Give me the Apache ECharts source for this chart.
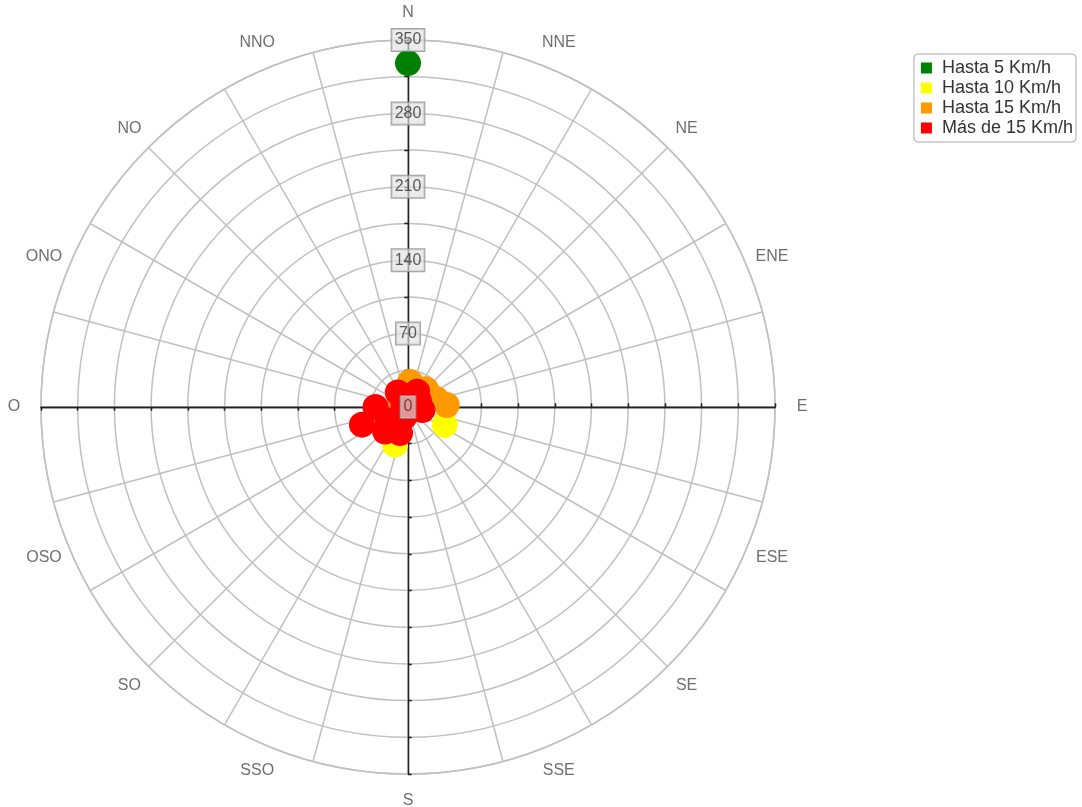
<!DOCTYPE html>
<html>
<head>
<meta charset="utf-8">
<script src="https://cdn.jsdelivr.net/npm/echarts@6/dist/echarts.min.js"></script>
<style>
html,body{margin:0;padding:0;background:#fff;}
#chart{width:1082px;height:807px;}
</style>
</head>
<body>
<div id="chart"></div>
<script>
// Compass labels (angle axis ticks), one every 22.5 degrees clockwise from N
const COMPASS = ['N','NNE','NE','ENE','E','ESE','SE','SSE','S','SSO','SO','OSO','O','ONO','NO','NNO'];
// Radius axis tick labels
const RADIUS_TICKS = [0, 70, 140, 210, 280, 350];
const RADIUS_MAX = 350;
const RADIUS_STEP = 35;
const ANGLE_STEP = 15;

// Series: [radius value, angle in degrees clockwise from N]
const SERIES_NAMES = ['Hasta 5 Km/h', 'Hasta 10 Km/h', 'Hasta 15 Km/h', 'Más de 15 Km/h'];
const hasta5 = [[328, 0]];
const hasta10 = [[39, 116], [38, 199]];
const hasta15 = [[24, 5], [37, 87], [28, 74], [24, 45], [16, 249], [18, 20]];
const mas15 = [[31, 270], [47, 249], [32, 223], [26, 197], [17, 325], [17, 31], [14, 102], [23, 237], [5, 300], [10, 350], [12, 60], [10, 200]];
const COLORS = ['#008000', '#ffff00', '#ff9900', '#ff0000'];

const FONT = 'Liberation Sans, Arial, sans-serif';
const CENTER = [408, 407];
const RADIUS = 367;
const LABEL_GAP_PX = 27; // compass label centre distance outside the outer ring

const polars = [];
const angleAxes = [];
const radiusAxes = [];

// polar 0: spokes + rings, radius axis up (ticks outside)
// polars 1..7: black radius axes up/right/left/down (ticks on both sides)
const dirs = [[90,false],[90,true],[0,false],[0,true],[180,false],[180,true],[270,false],[270,true]];
dirs.forEach(function(d, i){
  polars.push({center: CENTER, radius: RADIUS});
  let aa;
  if (i === 0) {
    aa = {type:'value', min:0, max:360, interval:ANGLE_STEP, startAngle:90, clockwise:true,
      axisLine:{show:true, lineStyle:{color:'#c0c0c0', width:1.5}},
      axisTick:{show:false}, axisLabel:{show:false},
      splitLine:{show:true, lineStyle:{color:'#c0c0c0', width:1.5}}};
  } else {
    aa = {type:'value', min:0, max:360, startAngle:d[0], clockwise:true,
      axisLine:{show:false}, axisTick:{show:false}, axisLabel:{show:false}, splitLine:{show:false}};
  }
  aa.polarIndex = i;
  angleAxes.push(aa);
  radiusAxes.push({
    polarIndex:i, type:'value', min:0, max:RADIUS_MAX, interval:RADIUS_STEP,
    axisLine:{show:true, lineStyle:{color:'#222', width:1.3}},
    axisTick:{show:true, inside:d[1], length:3.5, lineStyle:{color:'#222', width:1.3}},
    axisLabel:{show:false},
    splitLine:{show:i===0, lineStyle:{color:'#c0c0c0', width:1.5}},
    z: 3
  });
});

const dataSets = [hasta5, hasta10, hasta15, mas15];
const series = dataSets.map(function(ds, i){
  return {
    name: SERIES_NAMES[i], type:'scatter', coordinateSystem:'polar', polarIndex:0,
    symbol:'circle', symbolSize:26, data: ds,
    itemStyle:{color:COLORS[i], opacity:1}, z: 5 + i
  };
});
// radius tick labels on the N axis
series.push({
  name:'ticks', type:'scatter', coordinateSystem:'polar', polarIndex:0, silent:true,
  symbolSize:1, itemStyle:{color:'rgba(0,0,0,0)'}, z: 20,
  data: RADIUS_TICKS.map(function(v){ return [v, 0]; }),
  label:{show:true, position:'inside', formatter:function(p){ return String(p.value[0]); },
    backgroundColor:'rgba(224,224,224,0.82)', borderColor:'#888', borderWidth:1,
    padding:[3,3,3,3], fontSize:16, color:'#333', fontFamily:FONT}
});
// compass labels, centred just outside the outer ring
const labelR = RADIUS_MAX * (RADIUS + LABEL_GAP_PX) / RADIUS;
const compassStep = 360 / COMPASS.length;
series.push({
  name:'compass', type:'scatter', coordinateSystem:'polar', polarIndex:0, silent:true, clip:false,
  symbolSize:1, itemStyle:{color:'rgba(0,0,0,0)'}, z: 20,
  data: COMPASS.map(function(c, i){ return {name:c, value:[labelR, i * compassStep]}; }),
  label:{show:true, position:'inside', formatter:function(p){ return p.name; },
    fontSize:16, color:'#4a4a4a', fontFamily:FONT}
});

const chart = echarts.init(document.getElementById('chart'));
chart.setOption({
  animation:false,
  backgroundColor:'#fff',
  legend:{
    data: SERIES_NAMES, orient:'vertical', right:6, top:54,
    backgroundColor:'#fff', borderColor:'#aaa', borderWidth:1, borderRadius:4,
    padding:[5,3,5,7], itemGap:2, itemWidth:11, itemHeight:11, icon:'rect',
    textStyle:{fontSize:18, color:'#333', fontFamily:FONT, padding:[0,0,0,5]}
  },
  polar: polars,
  angleAxis: angleAxes,
  radiusAxis: radiusAxes,
  series: series
});
</script>
</body>
</html>
